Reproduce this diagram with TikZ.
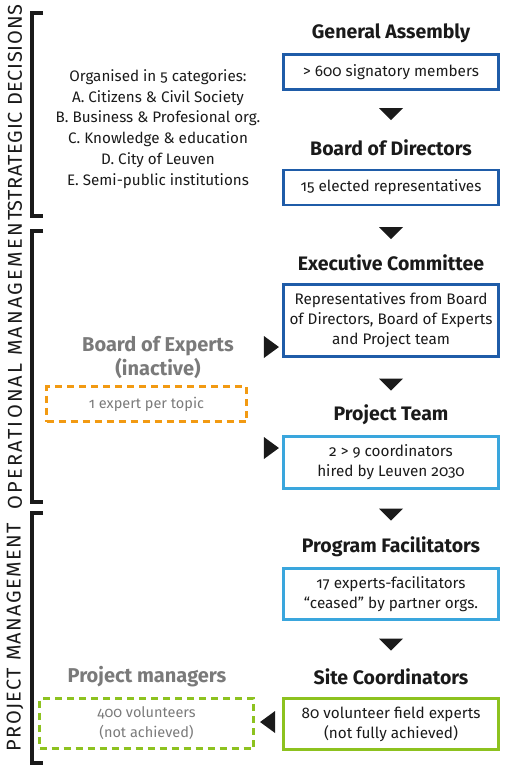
\documentclass[tikz,border=0pt]{standalone}
\usepackage{fontspec}
\setmainfont{Fira Sans}[Numbers=OldStyle]
\usetikzlibrary{shapes.geometric, positioning}

\definecolor{boardblue}{HTML}{1F5CA8}
\definecolor{teamblue}{HTML}{3AA6DD}
\definecolor{sitegreen}{HTML}{8DC21F}
\definecolor{expertorange}{HTML}{F29A12}
\definecolor{mutedgray}{HTML}{7A7A7A}
\definecolor{ink}{HTML}{1A1A1A}

\begin{document}
\begin{tikzpicture}[x=1pt, y=-1pt,
    title/.style={font=\fontsize{19.5}{22}\selectfont\bfseries, text=ink},
    greytitle/.style={font=\fontsize{20}{24}\selectfont\bfseries, text=mutedgray, align=center},
    box/.style={rectangle, draw=#1, line width=2.5pt, minimum width=215pt,
                align=center, font=\fontsize{15.3}{20}\selectfont, text=ink, inner sep=2pt},
    dashbox/.style={rectangle, draw=#1, line width=2.5pt, dash pattern=on 7pt off 5pt,
                align=center, font=\fontsize{14.5}{20}\selectfont, text=mutedgray, inner sep=2pt},
    tridown/.style={isosceles triangle, isosceles triangle stretches, fill=ink, inner sep=0pt,
                minimum height=12pt, minimum width=24pt, shape border rotate=-90},
    triside/.style={isosceles triangle, isosceles triangle stretches, fill=ink, inner sep=0pt,
                minimum height=15pt, minimum width=22pt, shape border rotate=#1},
    bracket/.style={line width=4pt, ink},
    phase/.style={rotate=90, text=ink,
                font=\fontsize{20}{22}\selectfont\addfontfeature{LetterSpace=#1}},
]
\useasboundingbox (0,0) rectangle (510,769);

% phases on the left
\draw[bracket] (43,13)  -- (32,13)  -- (32,216) -- (43,216);
\draw[bracket] (43,231) -- (32,231) -- (32,502) -- (43,502);
\draw[bracket] (43,513) -- (32,513) -- (32,763) -- (43,763);
\node[phase=3.5] (strat) at (15,108) {STRATEGIC DECISIONS};
\node[phase=11]  (oper)  at (15,360) {OPERATIONAL MANAGEMENT};
\node[phase=7]   (proj)  at (15,637) {PROJECT MANAGEMENT};

% main chain
\node[title] (gat)  at (391,33)  {General Assembly};
\node[box=boardblue, minimum height=35pt] (ga) at (391,72) {> 600 signatory members};
\node[tridown] (t1) at (391,113) {};
\node[title] (bdt)  at (391,148) {Board of Directors};
\node[box=boardblue, minimum height=35pt] (bd) at (391,187.5) {15 elected representatives};
\node[tridown] (t2) at (391,232) {};
\node[title] (ect)  at (391,263) {Executive Committee};
\node[box=boardblue, minimum height=72pt] (ec) at (391,320.5)
    {Representatives from Board\\of Directors, Board of Experts\\and Project team};
\node[tridown] (t3) at (391,383.5) {};
\node[title] (ptt)  at (391,415) {Project Team};
\node[box=teamblue, minimum height=52pt] (pt) at (391,462.5)
    {2 > 9 coordinators\\hired by Leuven 2030};
\node[tridown] (t4) at (391,513.5) {};
\node[title] (pft)  at (391,547) {Program Facilitators};
\node[box=teamblue, minimum height=51pt] (pf) at (391,594)
    {17 experts-facilitators\\“ceased” by partner orgs.};
\node[tridown] (t5) at (391,643.5) {};
\node[title] (sct)  at (391,677) {Site Coordinators};
\node[box=sitegreen, minimum height=51pt] (sc) at (391,724)
    {80 volunteer field experts\\(not fully achieved)};

% side groups
\node[align=center, font=\fontsize{15.2}{20.8}\selectfont, text=ink] (cats) at (158,129)
    {Organised in 5 categories:\\A. Citizens \& Civil Society\\B. Business \& Profesional org.\\
     C. Knowledge \& education\\D. City of Leuven\\E. Semi-public institutions};
\node[greytitle] (bet) at (158,357) {Board of Experts\\(inactive)};
\node[dashbox=expertorange, minimum width=200pt, minimum height=35pt] (be) at (146.5,404)
    {1 expert per topic};
\node[triside=0] (t6) at (269.5,347) {};
\node[triside=0] (t7) at (269.5,448) {};
\node[greytitle] (pmt) at (147,677) {Project managers};
\node[dashbox=sitegreen, minimum width=214pt, minimum height=50pt] (pm) at (146.5,723.5)
    {400 volunteers\\(not achieved)};
\node[triside=180] (t8) at (269.5,722) {};
\end{tikzpicture}
\end{document}
